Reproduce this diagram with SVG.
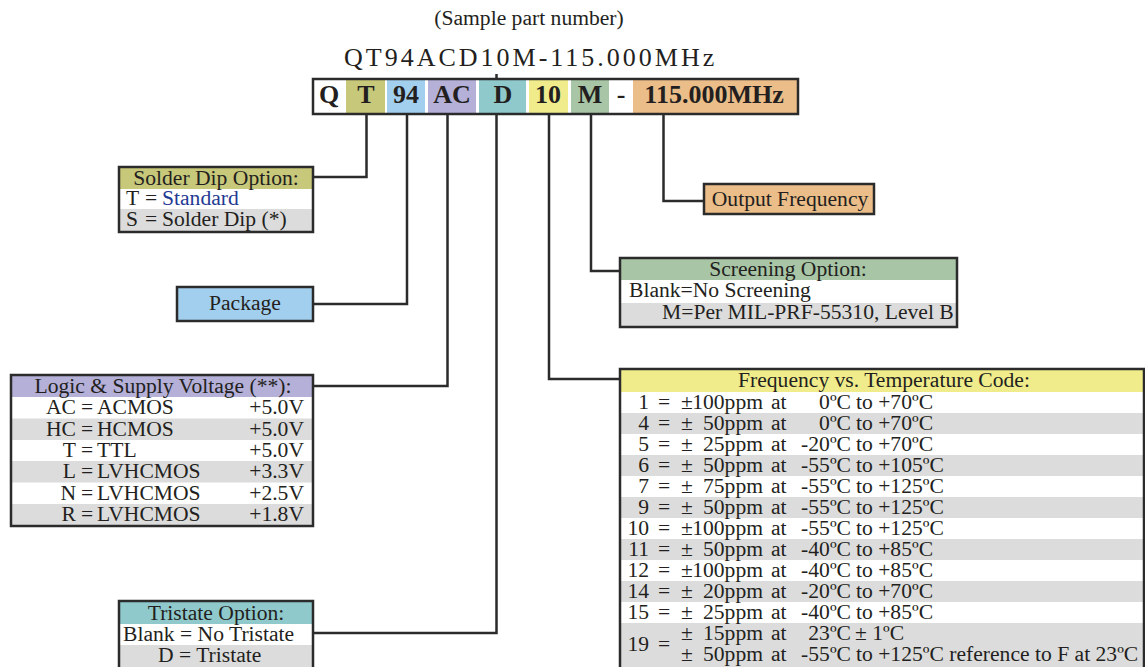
<svg xmlns="http://www.w3.org/2000/svg" width="1145" height="667" viewBox="0 0 1145 667">
<style>
.t{font-family:"Liberation Serif","Times New Roman",serif;font-size:21.6px;fill:#231f20}
.m{text-anchor:middle}
.e{text-anchor:end}
.pb{font-family:"Liberation Serif","Times New Roman",serif;font-size:26px;font-weight:bold;fill:#231f20;text-anchor:middle}
.bd{fill:none;stroke:#2b2b2b;stroke-width:2.5}
.c{fill:none;stroke:#2b2b2b;stroke-width:2.5}
.g{fill:#dcdcdc}
.w{fill:#ffffff}
</style>
<rect width="1145" height="667" fill="#ffffff"/>

<g id="title">
<text class="t m" x="529" y="25">(Sample part number)</text>
<text class="t" x="344" y="66" style="font-size:26px;letter-spacing:3px">QT94ACD10M-115.000MHz</text>
</g>

<g id="partnumber">
<rect x="313" y="79" width="485" height="35" fill="#ffffff"/>
<rect x="346" y="80" width="39" height="33" fill="#c8c87a"/>
<rect x="387" y="80" width="38" height="33" fill="#a3cfee"/>
<rect x="428" y="80" width="48" height="33" fill="#b4b0d8"/>
<rect x="479" y="80" width="47" height="33" fill="#8fc9cc"/>
<rect x="529" y="80" width="39" height="33" fill="#f0ec8c"/>
<rect x="571" y="80" width="38" height="33" fill="#a8c6a6"/>
<rect x="633" y="80" width="164" height="33" fill="#ebbd88"/>
<rect x="313" y="79" width="485" height="35" class="bd"/>
<text class="pb" x="329" y="103">Q</text>
<text class="pb" x="366" y="103">T</text>
<text class="pb" x="406" y="103">94</text>
<text class="pb" x="452" y="103">AC</text>
<text class="pb" x="503" y="103">D</text>
<text class="pb" x="548" y="103">10</text>
<text class="pb" x="590" y="103">M</text>
<text class="pb" x="621" y="103">-</text>
<text class="pb" x="714" y="103">115.000MHz</text>
</g>

<g id="connectors">
<path class="c" d="M496.5 74 V79"/>
<path class="c" d="M366.5 114 V177 H313"/>
<path class="c" d="M407 114 V304 H313"/>
<path class="c" d="M447.5 114 V386 H313"/>
<path class="c" d="M496.5 114 V633 H313"/>
<path class="c" d="M549 114 V379 H620"/>
<path class="c" d="M591 114 V271 H620"/>
<path class="c" d="M663.5 114 V201 H703"/>
</g>

<g id="solder-dip">
<rect x="119" y="167" width="194" height="22" fill="#c8c87a"/>
<rect x="119" y="189" width="194" height="20" class="w"/>
<rect x="119" y="209" width="194" height="23" class="g"/>
<rect x="119" y="167" width="194" height="65" class="bd"/>
<text class="t m" x="216" y="185">Solder Dip Option:</text>
<text class="t" x="126" y="205">T</text><text class="t" x="145" y="205">=</text><text class="t" x="162" y="205" style="fill:#1f3a93">Standard</text>
<text class="t" x="126" y="226">S</text><text class="t" x="145" y="226">=</text><text class="t" x="162" y="226">Solder Dip (*)</text>
</g>

<g id="package">
<rect x="177" y="287" width="136" height="34" class="bd" style="fill:#a3cfee"/>
<text class="t m" x="245" y="310">Package</text>
</g>

<g id="logic">
<rect x="11" y="375" width="302" height="22" fill="#b4b0d8"/>
<rect x="11" y="418.5" width="302" height="21.5" class="g"/>
<rect x="11" y="461" width="302" height="21.5" class="g"/>
<rect x="11" y="504" width="302" height="22" class="g"/>
<rect x="11" y="375" width="302" height="151" class="bd"/>
<text class="t m" x="163" y="393">Logic &amp; Supply Voltage (**):</text>
<text class="t e" x="76" y="414">AC</text><text class="t" x="81" y="414">=</text><text class="t" x="97" y="414">ACMOS</text><text class="t e" x="304" y="414">+5.0V</text>
<text class="t e" x="76" y="435.5">HC</text><text class="t" x="81" y="435.5">=</text><text class="t" x="97" y="435.5">HCMOS</text><text class="t e" x="304" y="435.5">+5.0V</text>
<text class="t e" x="76" y="457">T</text><text class="t" x="81" y="457">=</text><text class="t" x="97" y="457">TTL</text><text class="t e" x="304" y="457">+5.0V</text>
<text class="t e" x="76" y="478">L</text><text class="t" x="81" y="478">=</text><text class="t" x="97" y="478">LVHCMOS</text><text class="t e" x="304" y="478">+3.3V</text>
<text class="t e" x="76" y="499.5">N</text><text class="t" x="81" y="499.5">=</text><text class="t" x="97" y="499.5">LVHCMOS</text><text class="t e" x="304" y="499.5">+2.5V</text>
<text class="t e" x="76" y="521">R</text><text class="t" x="81" y="521">=</text><text class="t" x="97" y="521">LVHCMOS</text><text class="t e" x="304" y="521">+1.8V</text>
</g>

<g id="tristate">
<rect x="119" y="601" width="194" height="23" fill="#8fc9cc"/>
<rect x="119" y="645" width="194" height="25" class="g"/>
<rect x="119" y="601" width="194" height="70" class="bd"/>
<text class="t m" x="216" y="620">Tristate Option:</text>
<text class="t" x="123" y="641">Blank = No Tristate</text>
<text class="t" x="158" y="662">D = Tristate</text>
</g>

<g id="output-frequency">
<rect x="704" y="184" width="170" height="30" class="bd" style="fill:#ebbd88"/>
<text class="t m" x="790" y="206">Output Frequency</text>
</g>

<g id="screening">
<rect x="620" y="258" width="337" height="22" fill="#a8c6a6"/>
<rect x="620" y="303" width="337" height="24" class="g"/>
<rect x="620" y="258" width="337" height="69" class="bd"/>
<text class="t m" x="788" y="276">Screening Option:</text>
<text class="t" x="629" y="297">Blank=No Screening</text>
<text class="t" x="662" y="319">M=Per MIL-PRF-55310, Level B</text>
</g>

<g id="freq-temp">
<rect x="620" y="369" width="524" height="23" fill="#f0ec8c"/>
<rect x="620" y="413" width="524" height="21" class="g"/>
<rect x="620" y="455" width="524" height="21" class="g"/>
<rect x="620" y="497" width="524" height="21" class="g"/>
<rect x="620" y="539" width="524" height="21" class="g"/>
<rect x="620" y="581" width="524" height="21" class="g"/>
<rect x="620" y="623" width="524" height="50" class="g"/>
<rect x="620" y="369" width="524" height="304" class="bd"/>
<text class="t m" x="884" y="387">Frequency vs. Temperature Code:</text>

<text class="t e" x="649" y="409">1</text><text class="t" x="658" y="409">=</text><text class="t" x="681" y="409">±</text><text class="t e" x="763" y="409">100ppm</text><text class="t" x="771" y="409">at</text><text class="t e" x="851" y="409">0ºC</text><text class="t" x="856" y="409">to +70ºC</text>
<text class="t e" x="649" y="430">4</text><text class="t" x="658" y="430">=</text><text class="t" x="681" y="430">±</text><text class="t e" x="763" y="430">50ppm</text><text class="t" x="771" y="430">at</text><text class="t e" x="851" y="430">0ºC</text><text class="t" x="856" y="430">to +70ºC</text>
<text class="t e" x="649" y="451">5</text><text class="t" x="658" y="451">=</text><text class="t" x="681" y="451">±</text><text class="t e" x="763" y="451">25ppm</text><text class="t" x="771" y="451">at</text><text class="t e" x="851" y="451">-20ºC</text><text class="t" x="856" y="451">to +70ºC</text>
<text class="t e" x="649" y="472">6</text><text class="t" x="658" y="472">=</text><text class="t" x="681" y="472">±</text><text class="t e" x="763" y="472">50ppm</text><text class="t" x="771" y="472">at</text><text class="t e" x="851" y="472">-55ºC</text><text class="t" x="856" y="472">to +105ºC</text>
<text class="t e" x="649" y="493">7</text><text class="t" x="658" y="493">=</text><text class="t" x="681" y="493">±</text><text class="t e" x="763" y="493">75ppm</text><text class="t" x="771" y="493">at</text><text class="t e" x="851" y="493">-55ºC</text><text class="t" x="856" y="493">to +125ºC</text>
<text class="t e" x="649" y="514">9</text><text class="t" x="658" y="514">=</text><text class="t" x="681" y="514">±</text><text class="t e" x="763" y="514">50ppm</text><text class="t" x="771" y="514">at</text><text class="t e" x="851" y="514">-55ºC</text><text class="t" x="856" y="514">to +125ºC</text>
<text class="t e" x="649" y="535">10</text><text class="t" x="658" y="535">=</text><text class="t" x="681" y="535">±</text><text class="t e" x="763" y="535">100ppm</text><text class="t" x="771" y="535">at</text><text class="t e" x="851" y="535">-55ºC</text><text class="t" x="856" y="535">to +125ºC</text>
<text class="t e" x="649" y="556">11</text><text class="t" x="658" y="556">=</text><text class="t" x="681" y="556">±</text><text class="t e" x="763" y="556">50ppm</text><text class="t" x="771" y="556">at</text><text class="t e" x="851" y="556">-40ºC</text><text class="t" x="856" y="556">to +85ºC</text>
<text class="t e" x="649" y="577">12</text><text class="t" x="658" y="577">=</text><text class="t" x="681" y="577">±</text><text class="t e" x="763" y="577">100ppm</text><text class="t" x="771" y="577">at</text><text class="t e" x="851" y="577">-40ºC</text><text class="t" x="856" y="577">to +85ºC</text>
<text class="t e" x="649" y="598">14</text><text class="t" x="658" y="598">=</text><text class="t" x="681" y="598">±</text><text class="t e" x="763" y="598">20ppm</text><text class="t" x="771" y="598">at</text><text class="t e" x="851" y="598">-20ºC</text><text class="t" x="856" y="598">to +70ºC</text>
<text class="t e" x="649" y="619">15</text><text class="t" x="658" y="619">=</text><text class="t" x="681" y="619">±</text><text class="t e" x="763" y="619">25ppm</text><text class="t" x="771" y="619">at</text><text class="t e" x="851" y="619">-40ºC</text><text class="t" x="856" y="619">to +85ºC</text>
<text class="t e" x="649" y="651">19</text><text class="t" x="658" y="651">=</text>
<text class="t" x="681" y="640">±</text><text class="t e" x="763" y="640">15ppm</text><text class="t" x="771" y="640">at</text><text class="t e" x="851" y="640">23ºC</text><text class="t" x="855" y="640">± 1ºC</text>
<text class="t" x="681" y="661">±</text><text class="t e" x="763" y="661">50ppm</text><text class="t" x="771" y="661">at</text><text class="t e" x="851" y="661">-55ºC</text><text class="t" x="856" y="661">to +125ºC reference to F at 23ºC</text>
</g>
</svg>
